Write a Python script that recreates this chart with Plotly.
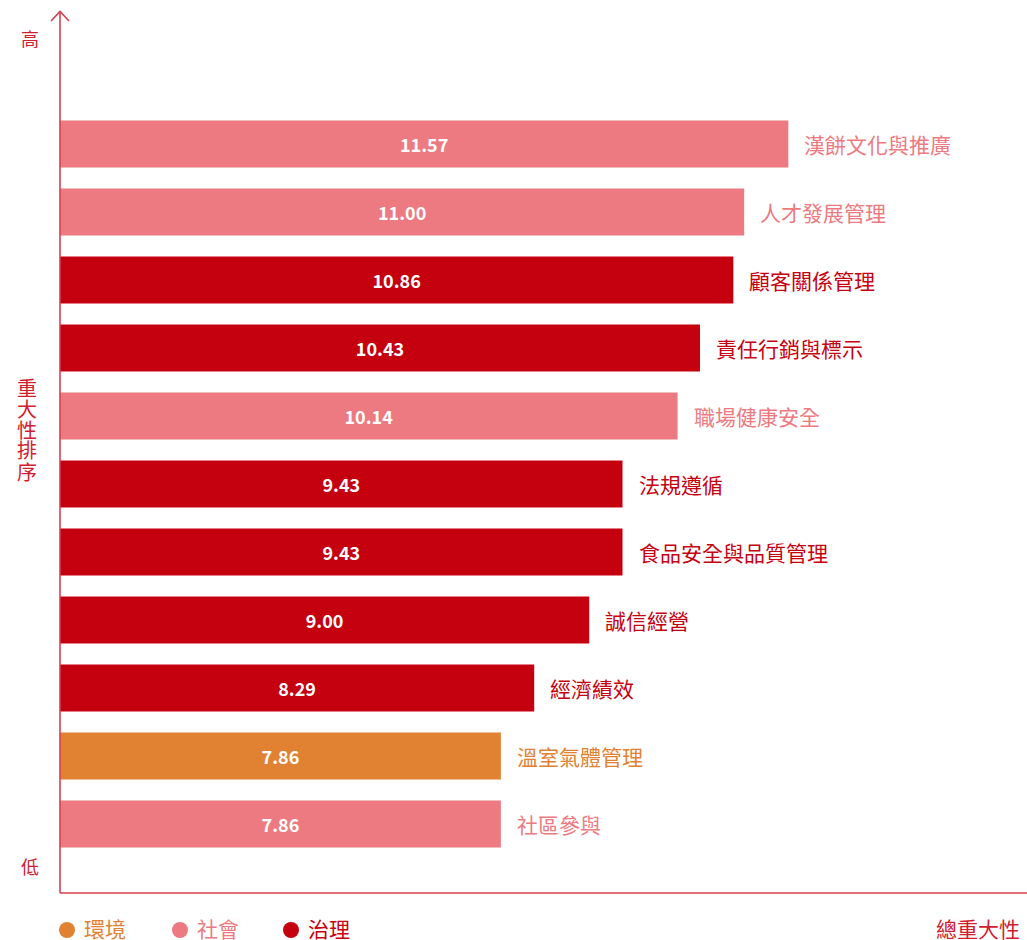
import plotly.graph_objects as go

# ---- data (top to bottom as in the chart) ----
topics = ["漢餅文化與推廣", "人才發展管理", "顧客關係管理", "責任行銷與標示", "職場健康安全",
          "法規遵循", "食品安全與品質管理", "誠信經營", "經濟績效", "溫室氣體管理", "社區參與"]
scores = [11.57, 11.00, 10.86, 10.43, 10.14, 9.43, 9.43, 9.00, 8.29, 7.86, 7.86]
groups = ["社會", "社會", "治理", "治理", "社會", "治理", "治理", "治理", "治理", "環境", "社會"]
legend_order = ["環境", "社會", "治理"]
y_title = "重大性排序"
x_title = "總重大性"

colors = {"環境": "#E08232", "社會": "#EC7A80", "治理": "#C5000F"}
axis_color = "#D6404E"
text_red = "#D0202E"
FONT = "Noto Sans CJK TC"

W, H = 1027, 940
ML, MR, MT, MB = 60, 0, 11, 47
PW, PH = W - ML - MR, H - MT - MB

X0, X1 = 2.17, 14.65  # visible value range

# bottom-to-top ordering for the category axis
cat_order = topics[::-1]

def px(xp):
    return (xp - ML) / PW

def py(yp):
    return (H - MB - yp) / PH

fig = go.Figure()

fig.add_trace(go.Bar(
    y=topics,
    x=[s - X0 for s in scores],
    base=X0,
    orientation="h",
    width=0.69,
    marker=dict(color=[colors[g] for g in groups], line=dict(width=0)),
    text=[f"{s:.2f}" for s in scores],
    textposition="inside",
    insidetextanchor="middle",
    textangle=0,
    textfont=dict(family=FONT, size=18, color="white", weight="bold"),
    hoverinfo="skip",
    showlegend=False,
))

annotations = []
# category labels to the right of bars
for t, s, g in zip(topics, scores, groups):
    annotations.append(dict(
        x=s, y=t, xref="x", yref="y", text=t, showarrow=False,
        xanchor="left", yanchor="middle", xshift=14,
        font=dict(family=FONT, size=21, color=colors[g]),
    ))

# axis texts
annotations += [
    dict(x=px(30), y=py(38), xref="paper", yref="paper", text="高", showarrow=False,
         xanchor="center", yanchor="middle", font=dict(family=FONT, size=18, color=text_red)),
    dict(x=px(30), y=py(866), xref="paper", yref="paper", text="低", showarrow=False,
         xanchor="center", yanchor="middle", font=dict(family=FONT, size=18, color=text_red)),
    dict(x=px(1022), y=py(928), xref="paper", yref="paper", text=x_title, showarrow=False,
         xanchor="right", yanchor="middle",
         font=dict(family=FONT, size=21, color=text_red)),
]
for i, ch in enumerate(y_title):
    annotations.append(dict(x=px(27), y=py(387 + 21 * i), xref="paper", yref="paper", text=ch,
                            showarrow=False, xanchor="center", yanchor="middle",
                            height=21, valign="middle",
                            font=dict(family=FONT, size=20, color=text_red)))

shapes = [
    # vertical axis
    dict(type="line", xref="paper", yref="paper", x0=0, x1=0, y0=0, y1=1,
         line=dict(color=axis_color, width=1.6), layer="above"),
    # horizontal axis
    dict(type="line", xref="paper", yref="paper", x0=0, x1=1, y0=0, y1=0,
         line=dict(color=axis_color, width=1.6), layer="above"),
    # arrow head
    dict(type="path", xref="paper", yref="paper",
         path=f"M {px(51)},{py(21)} L {px(60)},{py(11.5)} L {px(69)},{py(21)}",
         line=dict(color=axis_color, width=1.6), layer="above"),
]

# legend
legend_pos = [(67, 82), (180, 195), (291, 306)]
for g, (cx, tx) in zip(legend_order, legend_pos):
    shapes.append(dict(type="circle", xref="paper", yref="paper",
                       x0=px(cx - 8), x1=px(cx + 8), y0=py(938), y1=py(922),
                       fillcolor=colors[g], line=dict(width=0)))
    annotations.append(dict(x=px(tx), y=py(928), xref="paper", yref="paper", text=g,
                            showarrow=False, xanchor="left", yanchor="middle",
                            font=dict(family=FONT, size=21, color=colors[g])))

fig.update_layout(
    width=W, height=H,
    margin=dict(l=ML, r=MR, t=MT, b=MB, pad=0),
    paper_bgcolor="white", plot_bgcolor="white",
    xaxis=dict(range=[X0, X1], visible=False, showgrid=False, zeroline=False, fixedrange=True),
    yaxis=dict(type="category", categoryorder="array", categoryarray=cat_order,
               range=[-1.015, 11.956], visible=False, showgrid=False, zeroline=False),
    bargap=0.31,
    annotations=annotations,
    shapes=shapes,
    font=dict(family=FONT),
)

fig.write_html("out.html", config={"displayModeBar": False},
               post_script="document.body.style.margin='0px';document.body.style.overflow='hidden';")
